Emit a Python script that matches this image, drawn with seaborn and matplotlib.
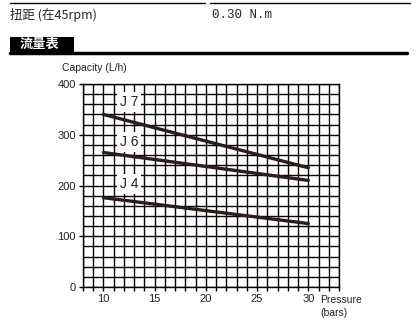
import matplotlib
matplotlib.use("Agg")
import matplotlib.pyplot as plt
import seaborn as sns
import pandas as pd
from matplotlib.lines import Line2D
from matplotlib.patches import Rectangle

pressure = [10, 30]
j7 = [340, 235]
j6 = [265, 210]
j4 = [176, 125]
series_names = ["J 7", "J 6", "J 4"]
label_y = [364, 286, 203]
x_ticks = [10, 15, 20, 25, 30]
y_ticks = [0, 100, 200, 300, 400]

sns.set_theme(style="white")
plt.rcParams['font.family'] = ['Liberation Sans', 'DejaVu Sans']

rows = []
for name, vals in zip(series_names, [j7, j6, j4]):
    for p, v in zip(pressure, vals):
        rows.append({"Pressure": p, "Capacity": v, "Series": name})
df = pd.DataFrame(rows)

fig = plt.figure(figsize=(4.2, 3.23), dpi=100)
ax = fig.add_axes([83/420, 1-287/323, (339-83)/420, (287-84)/323])

ax.set_xlim(8, 33)
ax.set_ylim(0, 400)
ax.set_xticks(x_ticks)
ax.set_yticks(y_ticks)
ax.set_xticks(range(8, 34), minor=True)
ax.set_yticks(range(0, 401, 20), minor=True)
ax.grid(which='both', color='black', linewidth=1.0)
ax.set_axisbelow(True)
for s in ax.spines.values():
    s.set_color('black')
    s.set_linewidth(1.0)
ax.tick_params(which='both', direction='out', color='black', length=3, width=1,
               labelsize=8, pad=2, bottom=True, left=True, labelcolor='#222222')
ax.tick_params(which='minor', left=False, length=3)

sns.lineplot(data=df, x="Pressure", y="Capacity", hue="Series", units="Series",
             estimator=None, palette=["#2b1d17"]*3, linewidth=2.4, legend=False, ax=ax)
ax.set_xlabel("")
ax.set_ylabel("")

for name, ly in zip(series_names, label_y):
    ax.text(12.5, ly, name, ha='center', va='center', fontsize=10,
            color='#222222', bbox=dict(facecolor='white', edgecolor='none', pad=2))

fig.text(62/420, 1-68/323, "Capacity (L/h)", fontsize=7.5, ha='left', va='center',
         color='#222222')
fig.text(320/420, 1-300/323, "Pressure", fontsize=7.5, ha='left', va='center',
         color='#222222')
fig.text(320/420, 1-313/323, "(bars)", fontsize=7.5, ha='left', va='center',
         color='#222222')

# header
fig.add_artist(Line2D([10/420, 205/420], [1-3/323, 1-3/323], color='black', lw=1))
fig.add_artist(Line2D([210/420, 410/420], [1-3/323, 1-3/323], color='black', lw=1))
fig.text(10/420, 1-15/323, "扭距 (在45rpm)", fontsize=9, ha='left', va='center',
         family=['Noto Sans CJK SC', 'DejaVu Sans'])
fig.text(212/420, 1-15/323, "0.30 N.m", fontsize=9, ha='left', va='center',
         family=['Liberation Mono', 'DejaVu Sans Mono'])
fig.add_artist(Rectangle((10/420, 1-52/323), (74-10)/420, 15/323, facecolor='black',
                         edgecolor='none', transform=fig.transFigure))
fig.text(20/420, 1-44/323, "流量表", fontsize=9.5, ha='left', va='center', color='white',
         fontweight='bold', family=['Noto Sans CJK SC', 'DejaVu Sans'])
fig.add_artist(Line2D([10/420, 407/420], [1-53/323, 1-53/323], color='black', lw=2.5))

fig.savefig("out.png", dpi=100)
